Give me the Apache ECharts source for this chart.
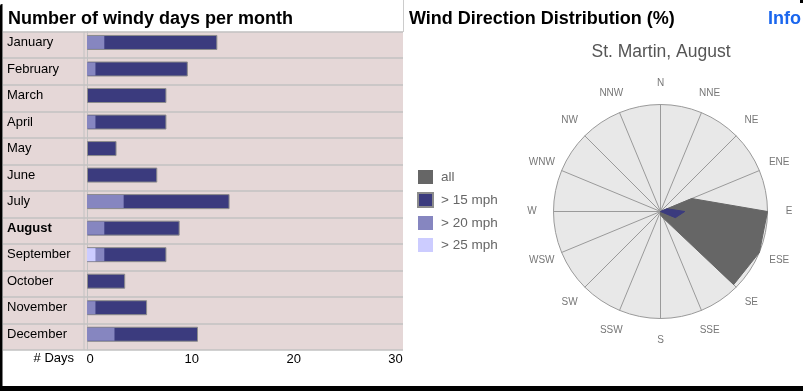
<!DOCTYPE html>
<html>
<head>
<meta charset="utf-8">
<script src="https://cdn.jsdelivr.net/npm/echarts@6/dist/echarts.min.js"></script>
<style>
  html, body { margin: 0; padding: 0; background: #fff; }
  #chart { width: 803px; height: 391px; }
</style>
</head>
<body>
<div id="chart"></div>
<script>
// ---- data ----
const months = ['January','February','March','April','May','June','July','August','September','October','November','December'];
const highlightMonth = 'August';
const over15 = [12.8, 9.9, 7.8, 7.8, 2.9, 6.9, 14.0, 9.1, 7.8, 3.75, 5.9, 10.9];
const over20 = [1.7, 0.83, 0, 0.83, 0, 0, 3.6, 1.7, 1.7, 0, 0.83, 2.7];
const over25 = [0, 0, 0, 0, 0, 0, 0, 0, 0.83, 0, 0, 0];
const dayTicks = [0, 10, 20, 30];

const directions = ['N','NNE','NE','ENE','E','ESE','SE','SSE','S','SSW','SW','WSW','W','WNW','NW','NNW'];
const dirAll  = [0, 0, 0, 9.5, 30, 30, 29, 2, 1, 0, 0, 0, 0, 0, 0, 0];
const dir15   = [0, 0, 0, 2, 6.8, 4.5, 0, 0, 0, 0, 0, 0, 0, 0, 0, 0];
const dirMax = 30;

const legendNames = ['all', '> 15 mph', '> 20 mph', '> 25 mph'];

// ---- build ----
const FONT = '"Liberation Sans", Arial, Helvetica, sans-serif';
const C15 = '#3b3b7e', C20 = '#8686c0', C25 = '#ccccff', CALL = '#666666';

// radar indicators are laid out counter-clockwise: reorder compass list
const order = directions.map((d, i) => (directions.length - i) % directions.length);
const indicators = order.map(i => ({ name: directions[i], max: dirMax }));
const radarAll = order.map(i => dirAll[i]);
const radar15 = order.map(i => dir15[i]);

const xMin = -8.249, xMax = 31.031;
const monthData = months.map(m => m === highlightMonth ? { value: m, textStyle: { fontWeight: 'bold' } } : m);

const chart = echarts.init(document.getElementById('chart'), null, { renderer: 'canvas' });
chart.setOption({
  animation: false,
  backgroundColor: '#ffffff',
  textStyle: { fontFamily: FONT },
  title: [
    { text: 'Number of windy days per month', left: 3, top: 5,
      textStyle: { fontSize: 18, fontWeight: 'bold', color: '#000', fontFamily: FONT } },
    { text: 'Wind Direction Distribution (%)', left: 404, top: 5,
      textStyle: { fontSize: 18, fontWeight: 'bold', color: '#000', fontFamily: FONT } },
    { text: 'Info', left: 763, top: 5,
      textStyle: { fontSize: 18, fontWeight: 'bold', color: '#1a66ee', fontFamily: FONT } },
    { text: 'St. Martin, August', left: 656, top: 38, textAlign: 'center',
      textStyle: { fontSize: 17.5, fontWeight: 'normal', color: '#555', fontFamily: FONT } }
  ],
  legend: {
    data: legendNames,
    orient: 'vertical',
    left: 412, top: 165,
    itemWidth: 15, itemHeight: 14, itemGap: 8,
    icon: 'rect',
    selectedMode: false,
    textStyle: { fontSize: 13.5, color: '#666', fontFamily: FONT, padding: [0, 0, 0, 3] }
  },
  grid: [
    { left: 3, top: 29.2, width: 400, height: 318.3, containLabel: false },
    { left: 3, top: 31.7, width: 400, height: 318.3, containLabel: false,
      show: true, backgroundColor: '#e5d7d7', borderWidth: 0 }
  ],
  xAxis: [
    { type: 'value', gridIndex: 0, min: xMin, max: xMax, show: false },
    { type: 'value', gridIndex: 1, min: xMin, max: xMax,
      axisLine: { show: false }, axisTick: { show: false }, splitLine: { show: false },
      axisLabel: { customValues: dayTicks, margin: 3, fontSize: 13, color: '#000', fontFamily: FONT,
                   padding: [0, 0, 0, 6] } }
  ],
  yAxis: [
    { type: 'category', gridIndex: 0, data: monthData, inverse: true,
      axisLine: { show: false }, axisTick: { show: false }, splitLine: { show: false },
      axisLabel: { inside: true, align: 'left', margin: 4, fontSize: 13, color: '#000', fontFamily: FONT } },
    { type: 'category', gridIndex: 1, data: months, inverse: true,
      axisLine: { show: true, lineStyle: { color: '#c2c2c2', width: 1 } },
      axisTick: { show: false }, axisLabel: { show: false },
      splitLine: { show: true, lineStyle: { color: '#c2c2c2', width: 1.5 } } },
    { type: 'category', gridIndex: 0, data: months, inverse: true, show: false }
  ],
  radar: {
    center: [660.5, 211.5],
    radius: 107,
    startAngle: 90,
    shape: 'circle',
    splitNumber: 1,
    indicator: indicators,
    axisName: { color: '#777', fontSize: 10, fontFamily: FONT, align: 'center', verticalAlign: 'middle' },
    nameGap: 21.5,
    axisLine: { lineStyle: { color: '#9a9a9a', width: 1 } },
    splitLine: { lineStyle: { color: '#9a9a9a', width: 1 } },
    splitArea: { show: true, areaStyle: { color: ['#e8e8e8'] } }
  },
  series: [
    { name: '> 15 mph', type: 'bar', xAxisIndex: 0, yAxisIndex: 0, data: over15,
      barWidth: 15,
      itemStyle: { color: C15, borderColor: '#8c8c8c', borderWidth: 1 } },
    { name: '> 20 mph', type: 'bar', xAxisIndex: 0, yAxisIndex: 2, data: over20,
      barWidth: 13, barGap: '-100%', itemStyle: { color: C20 } },
    { name: '> 25 mph', type: 'bar', xAxisIndex: 0, yAxisIndex: 2, data: over25,
      barWidth: 13, barGap: '-100%', itemStyle: { color: C25 } },
    { name: 'wind', type: 'radar', symbol: 'none',
      data: [
        { name: 'all', value: radarAll,
          itemStyle: { color: CALL },
          lineStyle: { color: CALL, width: 1 },
          areaStyle: { color: CALL, opacity: 1 } },
        { name: '> 15 mph', value: radar15,
          itemStyle: { color: C15 },
          lineStyle: { color: C15, width: 1 },
          areaStyle: { color: C15, opacity: 1 } }
      ] }
  ],
  graphic: [
    { type: 'line', shape: { x1: 84, y1: 31.7, x2: 84, y2: 350 }, style: { stroke: '#c2c2c2', lineWidth: 1 }, z: 5 },
    { type: 'line', shape: { x1: 403.5, y1: 0, x2: 403.5, y2: 32 }, style: { stroke: '#cccccc', lineWidth: 1 } },
    { type: 'text', right: 803 - 74, top: 352, style: { text: '# Days', font: '13px ' + FONT, fill: '#000' } },
    { type: 'rect', shape: { x: 0, y: 4, width: 2.5, height: 387, r: [2, 0, 0, 0] }, style: { fill: '#000' } },
    { type: 'rect', shape: { x: 0, y: 386, width: 803, height: 5 }, style: { fill: '#000' } },
    { type: 'rect', shape: { x: 800, y: 0, width: 3, height: 3 }, style: { fill: '#000' } }
  ]
});
</script>
</body>
</html>
